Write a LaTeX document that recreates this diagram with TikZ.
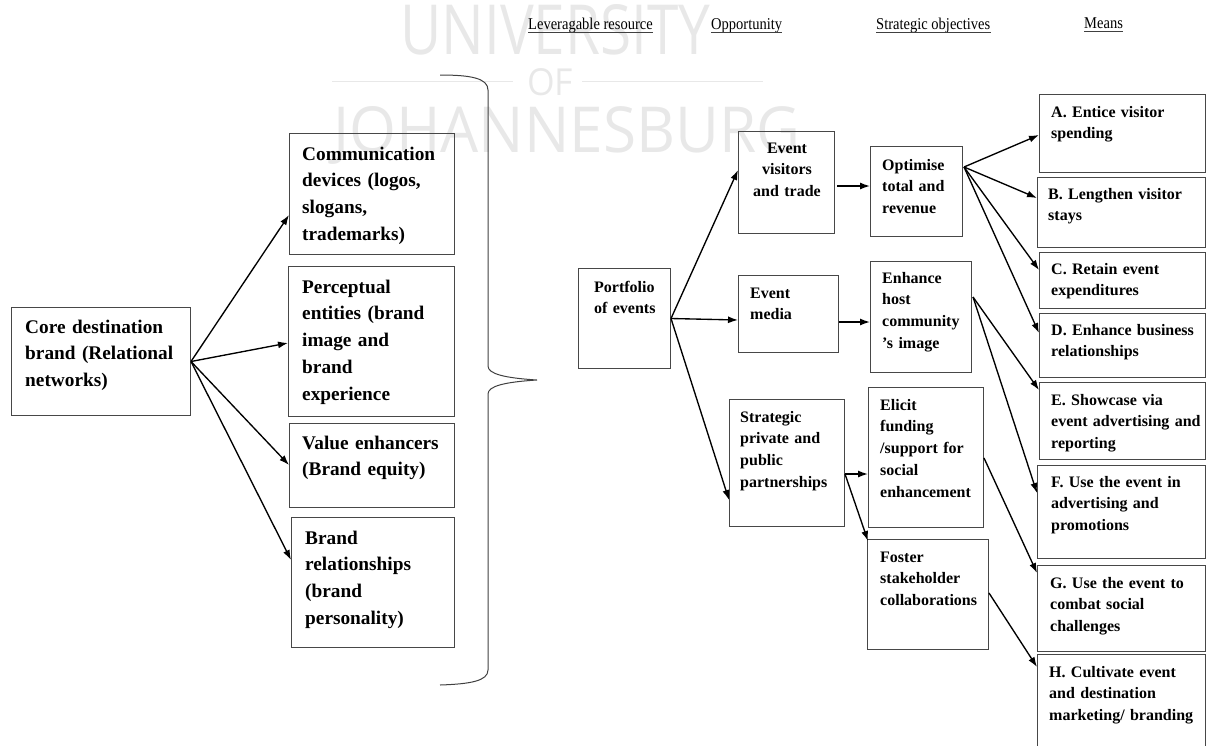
\documentclass[tikz,border=0pt]{standalone}
\usepackage{fontspec}
\usepackage{graphicx}
\setmainfont{Liberation Serif}
\newfontfamily\wmfont{Open Sans}
\usetikzlibrary{arrows.meta,calc}
\begin{document}
\begin{tikzpicture}[x=1pt,y=-1pt,
  box/.style={draw=black!72, line width=1pt, inner sep=0pt, anchor=north west},
  arr/.style={draw=black, line width=1.35pt, -{Latex[length=10pt,width=7pt]}},
  bigtxt/.style={inner sep=0pt, anchor=base west, text width=220pt, align=left,
    font=\fontsize{19.3}{26.8}\selectfont\bfseries},
  smalltxt/.style={inner sep=0pt, anchor=base west, text width=200pt, align=left,
    font=\fontsize{16}{21.8}\selectfont\bfseries},
  hdr/.style={inner sep=0pt, anchor=base west, font=\fontsize{16.5}{18}\selectfont},
  uline/.style={draw=black!75, line width=0.8pt},
  wm/.style={inner sep=0pt, anchor=base west, text=black!9, font=\wmfont},
  wmline/.style={draw=black!9, line width=1.3pt},
  brace/.style={draw=black!75, line width=1pt},
]
\useasboundingbox (0,0) rectangle (1206,745);
\clip (0,0) rectangle (1206,745);

% faint background lettering
\node[wm] (wm-uni) at (400,54) {\resizebox{310pt}{50pt}{UNIVERSITY}};
\node[wm] (wm-of) at (527,95) {\resizebox{46pt}{27pt}{OF}};
\node[wm] (wm-jhb) at (333,152) {\resizebox{467pt}{46pt}{JOHANNESBURG}};
\draw[wmline] ([xshift=-14pt]wm-of.west) -- ++(-181,0);
\draw[wmline] ([xshift=9pt]wm-of.east) -- ++(181,0);

% column headings
\node[hdr] (h-res) at (528,29) {\scalebox{0.88}[1]{Leveragable resource}};
\node[hdr] (h-opp) at (711,29) {\scalebox{0.88}[1]{Opportunity}};
\node[hdr] (h-obj) at (876,29.5) {\scalebox{0.88}[1]{Strategic objectives}};
\node[hdr] (h-mea) at (1084,28) {\scalebox{0.88}[1]{Means}};
\foreach \h in {h-res,h-opp,h-obj,h-mea}
  \draw[uline] ([yshift=-3pt]\h.base west) -- ([yshift=-3pt]\h.base east);

% destination brand side
\node[box, minimum width=179pt, minimum height=108pt] (core) at (11,307) {};
\node[bigtxt] (core-t) at (25,333) {Core destination\\brand (Relational\\networks)};

\node[box, minimum width=165pt, minimum height=121pt] (comm) at (289,133) {};
\node[bigtxt] (comm-t) at (302,160) {Communication\\devices (logos,\\slogans,\\trademarks)};

\node[box, minimum width=166pt, minimum height=150pt] (perc) at (288,266) {};
\node[bigtxt] (perc-t) at (302,293) {Perceptual\\entities (brand\\image and\\brand\\experience};

\node[box, minimum width=165pt, minimum height=84pt] (val) at (289,423) {};
\node[bigtxt] (val-t) at (302,449) {Value enhancers\\(Brand equity)};

\node[box, minimum width=163pt, minimum height=130pt] (brel) at (291,517) {};
\node[bigtxt] (brel-t) at (305,544) {Brand\\relationships\\(brand\\personality)};

\draw[arr] (core.east) -- ($(comm.north west)+(0,82)$);
\draw[arr] (core.east) -- ($(perc.north west)+(0,77)$);
\draw[arr] (core.east) -- ($(val.north west)+(0,42)$);
\draw[arr] (core.east) -- ($(brel.north west)+(0,43)$);

% grouping brace
\draw[brace] (440,75) .. controls (470,75) and (488,78) .. (488,90)
  -- (488,366) .. controls (488,374) and (505,378) .. (537,380)
  .. controls (505,382) and (488,386) .. (488,394)
  -- (488,670) .. controls (488,681) and (470,684) .. (440,685);

% event portfolio side
\node[box, minimum width=92pt, minimum height=100pt] (port) at (578,268) {};
\node[smalltxt] (port-t) at (594,292) {Portfolio\\of events};

\node[box, minimum width=96pt, minimum height=102pt] (ev) at (738,131) {};
\node[smalltxt, anchor=base, text width=120pt, align=center] (ev-t) at (787,153) {Event\\visitors\\and trade};

\node[box, minimum width=92pt, minimum height=90pt] (opt) at (870,146) {};
\node[smalltxt] (opt-t) at (882,170) {Optimise\\total and\\revenue};

\node[box, minimum width=100pt, minimum height=77pt] (med) at (738,275) {};
\node[smalltxt] (med-t) at (750,298) {Event\\media};

\node[box, minimum width=101pt, minimum height=111pt] (enh) at (870,261) {};
\node[smalltxt] (enh-t) at (882,283) {Enhance\\host\\community\\’s image};

\node[box, minimum width=115pt, minimum height=127pt] (strat) at (729,399) {};
\node[smalltxt] (strat-t) at (740,422) {Strategic\\private and\\public\\partnerships};

\node[box, minimum width=115pt, minimum height=140pt] (eli) at (868,387) {};
\node[smalltxt] (eli-t) at (880,410) {Elicit\\funding\\/support for\\social\\enhancement};

\node[box, minimum width=121pt, minimum height=110pt] (fos) at (867,539) {};
\node[smalltxt] (fos-t) at (880,562) {Foster\\stakeholder\\collaborations};

\draw[arr] (port.east) -- ($(ev.north west)+(0,39)$);
\draw[arr] (port.east) -- ($(med.north west)+(0,45)$);
\draw[arr] (port.east) -- ($(strat.north west)+(0,101)$);
\draw[arr] ($(ev.north east)+(2,55)$) -- ($(opt.north west)+(0,40)$);
\draw[arr] ($(med.north east)+(0,47)$) -- ($(enh.north west)+(0,61)$);
\draw[arr] ($(strat.north east)+(0,75)$) -- ($(eli.north west)+(0,87)$);
\draw[arr] ($(strat.north east)+(0,75)$) -- ($(fos.north west)+(1,2)$);

% means
\node[box, minimum width=165.5pt, minimum height=78pt] (ma) at (1039,94) {};
\node[smalltxt] (ma-t) at (1051,117) {A. Entice visitor\\spending};

\node[box, minimum width=167.5pt, minimum height=70pt] (mb) at (1037,177) {};
\node[smalltxt] (mb-t) at (1048,199) {B. Lengthen visitor\\stays};

\node[box, minimum width=165.5pt, minimum height=56pt] (mc) at (1039,252) {};
\node[smalltxt] (mc-t) at (1051,274) {C. Retain event\\expenditures};

\node[box, minimum width=165.5pt, minimum height=64pt] (md) at (1039,313) {};
\node[smalltxt] (md-t) at (1051,335) {D. Enhance business\\relationships};

\node[box, minimum width=165.5pt, minimum height=77pt] (me) at (1039,382) {};
\node[smalltxt] (me-t) at (1051,405) {E. Showcase via\\event advertising and\\reporting};

\node[box, minimum width=167.5pt, minimum height=93pt] (mf) at (1037,465) {};
\node[smalltxt] (mf-t) at (1051,487) {F. Use the event in\\advertising and\\promotions};

\node[box, minimum width=167.5pt, minimum height=86pt] (mg) at (1037,565) {};
\node[smalltxt] (mg-t) at (1050,588) {G. Use the event to\\combat social\\challenges};

\node[box, minimum width=167.5pt, minimum height=110pt] (mh) at (1037,654) {};
\node[smalltxt] (mh-t) at (1049,677) {H. Cultivate event\\and destination\\marketing/ branding};

\draw[arr] ($(opt.north east)+(1,21)$) -- ($(ma.north west)+(0,41)$);
\draw[arr] ($(opt.north east)+(1,21)$) -- ($(mb.north west)+(0,21)$);
\draw[arr] ($(opt.north east)+(1,21)$) -- ($(mc.north west)+(0,18)$);
\draw[arr] ($(opt.north east)+(1,21)$) -- ($(md.north west)+(0,20)$);
\draw[arr] ($(enh.north east)+(1,36)$) -- ($(me.north west)+(0,8)$);
\draw[arr] ($(enh.north east)+(1,36)$) -- ($(mf.north west)+(0,28)$);
\draw[arr] ($(eli.north east)+(0,71)$) -- ($(mg.north west)+(0,8)$);
\draw[arr] ($(fos.north east)+(0,54)$) -- ($(mh.north west)+(0,13)$);
\end{tikzpicture}
\end{document}
